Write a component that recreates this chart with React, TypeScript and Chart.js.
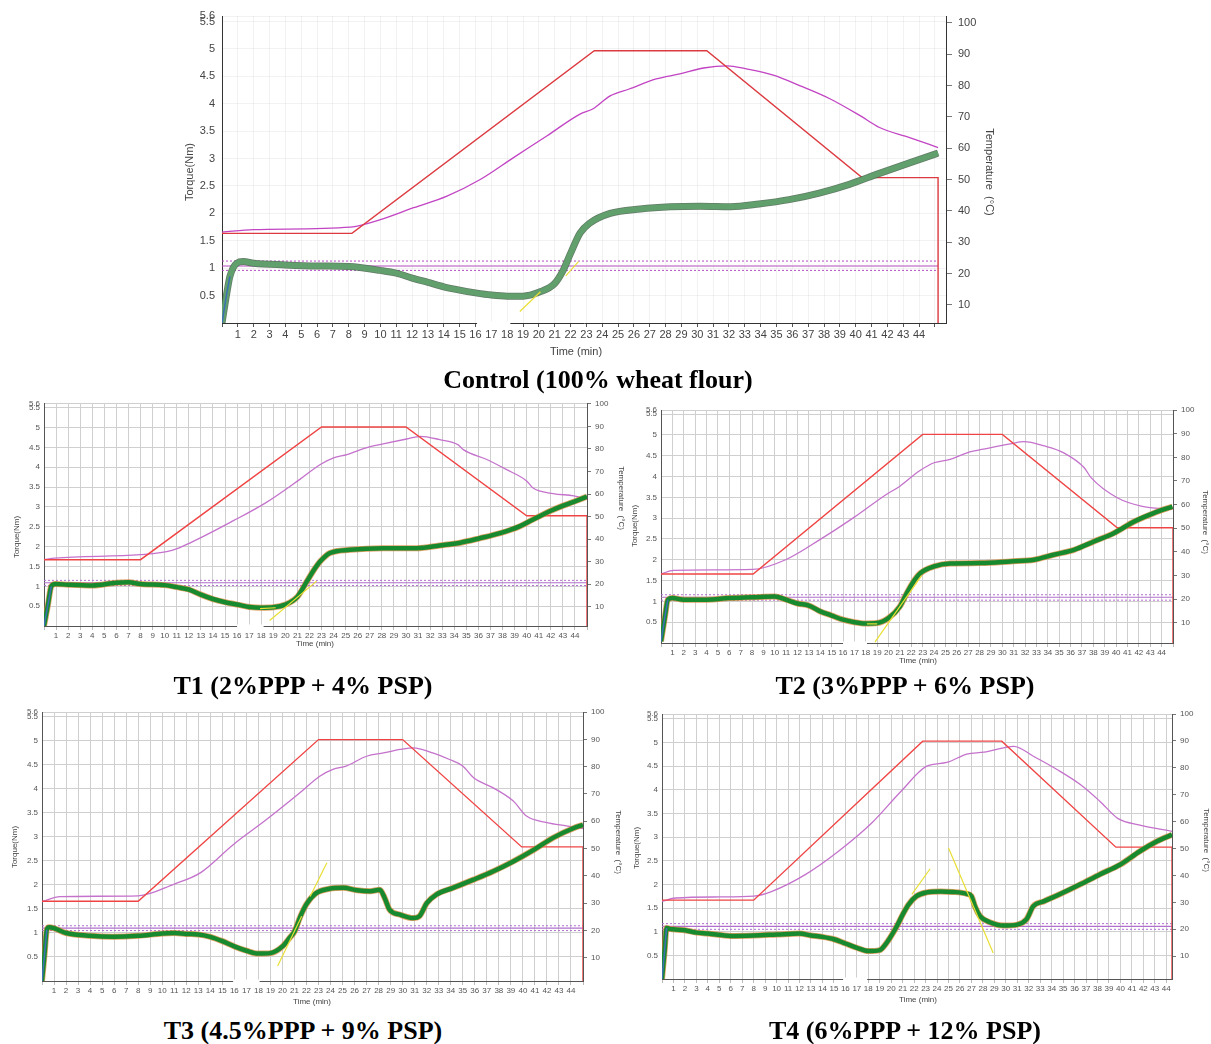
import React, { useEffect, useRef } from 'react';
import { Chart, registerables } from 'chart.js';
Chart.register(...registerables);

// ---------- axis ticks ----------
const torqueTicks = [0.5, 1, 1.5, 2, 2.5, 3, 3.5, 4, 4.5, 5, 5.5, 5.6];
const tempTicks = [10, 20, 30, 40, 50, 60, 70, 80, 90, 100];
const timeTicks = Array.from({ length: 46 }, (_, i) => i);
const timeLabelFirst = 1;
const timeLabelLast = 44;

// ---------- Control (100% wheat flour) ----------
const ctrlTorqueTime = [0, 0.3, 0.5, 0.93, 1.35, 2, 4, 6, 8, 10, 11, 12, 13, 14, 15, 16, 17, 18, 19, 20, 21, 21.5, 22, 22.6, 23.2, 24.5, 26.4, 28.3, 30.2, 32.1, 33.9, 35.8, 37.7, 39.6, 41.5, 43.4, 45.2];
const ctrlTorque = [0, 0.54, 0.85, 1.09, 1.12, 1.09, 1.06, 1.04, 1.03, 0.96, 0.91, 0.82, 0.74, 0.66, 0.6, 0.55, 0.51, 0.49, 0.49, 0.56, 0.72, 0.94, 1.27, 1.64, 1.82, 2.0, 2.08, 2.12, 2.13, 2.12, 2.17, 2.25, 2.37, 2.53, 2.73, 2.92, 3.1];
const ctrlDoughTime = [0, 2, 8.1, 10, 12.1, 14.2, 16.3, 18.4, 20.5, 22.6, 23.4, 24.5, 25.7, 27.4, 28.9, 30.4, 31.9, 33.1, 34.8, 36.5, 38.4, 40.3, 41.5, 43.4, 45.2];
const ctrlDough = [33.2, 34.0, 34.8, 37.2, 41, 44.7, 50, 57, 63.9, 70.9, 72.5, 76.7, 78.9, 82.1, 83.7, 85.6, 86.3, 85.3, 83.3, 79.9, 75.7, 70.3, 66.6, 63.4, 60.2];
const ctrlTargetTime = [0, 8.2, 23.5, 30.6, 40.4, 45.2, 45.2];
const ctrlTarget = [32.8, 32.8, 91.1, 91.1, 50.6, 50.6, 4.2];
const ctrlBand = [1.04, 1.13, 0.96];
const ctrlTangents = [[[18.8, 0.21], [20.1, 0.57]], [[21.7, 0.86], [22.5, 1.12]]];

// ---------- T1 (2%PPP + 4% PSP) ----------
const t1TorqueTime = [0, 0.33, 0.6, 0.93, 2, 4, 6, 7, 8, 10, 11, 12, 13, 14, 15, 16, 17, 18, 19, 20, 21, 21.8, 22.3, 22.9, 23.7, 25.35, 28.1, 30.9, 32.8, 34.5, 36.1, 37.8, 39.4, 40.5, 42.2, 43.9, 45];
const t1Torque = [0, 0.54, 1.0, 1.06, 1.04, 1.02, 1.09, 1.1, 1.06, 1.03, 0.98, 0.92, 0.79, 0.68, 0.6, 0.54, 0.48, 0.46, 0.47, 0.54, 0.74, 1.13, 1.38, 1.63, 1.84, 1.92, 1.96, 1.96, 2.03, 2.1, 2.21, 2.34, 2.51, 2.68, 2.93, 3.13, 3.26];
const t1DoughTime = [0, 0.9, 8, 10.6, 12.2, 15.7, 18.4, 21.2, 22.9, 24, 25.1, 26.7, 28.1, 30.05, 31.2, 32.8, 34.3, 34.75, 36.7, 38.3, 40, 40.5, 42.2, 43.9, 45];
const t1Dough = [30.9, 31.6, 33.1, 35.0, 38.6, 48.2, 56.2, 66.5, 73.1, 76, 77.5, 80.5, 82.2, 84.4, 85.6, 84.1, 81.9, 79.7, 75.3, 70.9, 65.8, 62.8, 60.2, 59.2, 57.7];
const t1TargetTime = [0, 8, 23, 30, 40, 45, 45];
const t1Target = [30.9, 30.9, 89.7, 89.7, 50.4, 50.4, 1.5];
const t1Band = [1.09, 1.15, 1.02];
const t1Tangents = [[[18.7, 0.14], [22.6, 1.13]], [[17.9, 0.44], [19.2, 0.46]]];

// ---------- T2 (3%PPP + 6% PSP) ----------
const t2TorqueTime = [0, 0.35, 0.6, 1, 2, 4, 6, 8, 10, 11, 12, 13, 14, 15, 16, 17, 18, 19, 20, 21, 21.6, 22.2, 22.8, 24, 25.4, 28.1, 30.7, 32.8, 34.5, 36.3, 38.05, 39.8, 41.6, 43.3, 44.95];
const t2Torque = [0.04, 0.64, 1.04, 1.08, 1.04, 1.04, 1.08, 1.1, 1.12, 1.04, 0.95, 0.9, 0.76, 0.66, 0.56, 0.5, 0.47, 0.48, 0.6, 0.88, 1.2, 1.48, 1.68, 1.84, 1.91, 1.92, 1.96, 2.0, 2.12, 2.24, 2.44, 2.64, 2.92, 3.12, 3.28];
const t2DoughTime = [0, 1.1, 8.1, 11, 14, 16.9, 19.8, 21, 22.7, 24, 25.4, 26.9, 28.7, 30.7, 31.9, 33.7, 35.4, 37.2, 37.8, 40.1, 42.2, 44.95];
const t2Dough = [30.7, 32.2, 32.6, 36.8, 45.3, 54.4, 64.3, 67.8, 74.2, 77.7, 79.1, 81.9, 83.8, 85.7, 86.6, 84.8, 81.9, 75.6, 71.4, 62.9, 59.4, 58];
const t2TargetTime = [0, 8.1, 23, 30, 40.1, 45, 45];
const t2Target = [30.7, 30.7, 89.7, 89.7, 50.2, 50.2, 1.5];
const t2Band = [1.1, 1.16, 1.03];
const t2Tangents = [[[18.8, 0.02], [22.9, 1.62]], [[18.1, 0.46], [19.0, 0.46]]];

// ---------- T3 (4.5%PPP + 9% PSP) ----------
const t3TorqueTime = [0, 0.22, 0.4, 0.6, 2, 4, 5.9, 8, 10, 11, 12, 13, 14, 15, 16, 17, 18, 19, 20, 20.6, 21, 21.5, 22, 22.8, 23.9, 25.05, 26.2, 27.3, 28.1, 28.5, 28.9, 29.8, 30.9, 31.4, 32, 32.8, 34.2, 35.9, 37.5, 39.2, 40.9, 42.5, 44.2, 45];
const t3Torque = [0, 0.58, 1.07, 1.12, 1.0, 0.94, 0.92, 0.94, 0.99, 1.0, 0.98, 0.97, 0.92, 0.83, 0.72, 0.63, 0.57, 0.58, 0.72, 0.9, 1.03, 1.35, 1.6, 1.83, 1.92, 1.94, 1.89, 1.87, 1.9, 1.73, 1.49, 1.38, 1.31, 1.35, 1.62, 1.8, 1.94, 2.11, 2.28, 2.49, 2.73, 2.98, 3.18, 3.25];
const t3DoughTime = [0, 1.5, 8, 11, 13.2, 15.9, 18.7, 21.45, 23.1, 24.2, 25.3, 27, 28.4, 29.8, 30.9, 32.5, 33.9, 35, 35.9, 37.5, 39.2, 40.3, 42, 43.6, 45];
const t3Dough = [30.5, 32.4, 32.7, 37, 41.2, 51.4, 60.7, 70.4, 76.5, 79, 80.2, 83.8, 85, 86.3, 86.9, 85, 82.6, 80.2, 75.9, 72.3, 67.4, 61.9, 59.5, 58.3, 57.3];
const t3TargetTime = [0, 8, 23, 30, 39.9, 45, 45];
const t3Target = [30.7, 30.7, 89.9, 89.9, 50.6, 50.6, 1.5];
const t3Band = [1.1, 1.15, 1.05];
const t3Tangents = [[[19.6, 0.31], [21.6, 1.35]], [[22.3, 1.76], [23.7, 2.46]]];

// ---------- T4 (6%PPP + 12% PSP) ----------
const t4TorqueTime = [0, 0.24, 0.4, 0.65, 1, 2, 3, 4, 6, 8, 10, 12, 13, 14, 15, 16, 17, 18, 19, 19.5, 20, 20.5, 21, 21.5, 22.2, 23.1, 24.3, 25.4, 26.6, 27, 27.3, 27.75, 28.6, 29.8, 31, 31.8, 32.4, 33.3, 34.7, 36.5, 38.2, 40, 41.7, 43.2, 44.5];
const t4Torque = [0, 0.63, 1.08, 1.06, 1.05, 1.03, 0.98, 0.96, 0.91, 0.92, 0.94, 0.96, 0.92, 0.89, 0.84, 0.75, 0.66, 0.59, 0.61, 0.73, 0.91, 1.12, 1.36, 1.57, 1.75, 1.83, 1.85, 1.84, 1.8, 1.75, 1.54, 1.33, 1.2, 1.13, 1.15, 1.26, 1.54, 1.64, 1.79, 2.0, 2.21, 2.42, 2.7, 2.91, 3.05];
const t4DoughTime = [0, 1.2, 5, 8, 9.6, 12.5, 15.4, 18.3, 20.8, 23.1, 24.85, 26.6, 28.1, 29.8, 30.7, 32.4, 34.5, 36.5, 38.2, 39.8, 41.7, 44.5];
const t4Dough = [30.4, 31.6, 32, 32.3, 34.1, 40.3, 49, 59.5, 71, 80.6, 82, 85.1, 85.8, 87.4, 88, 84.3, 79.3, 73.8, 67.6, 61.1, 58.7, 56.4];
const t4TargetTime = [0, 8, 22.75, 29.65, 39.6, 44.5, 44.5];
const t4Target = [30.8, 30.8, 89.9, 89.9, 50.5, 50.5, 1.5];
const t4Band = [1.11, 1.17, 1.05];
const t4Tangents = [[[21.8, 1.79], [23.4, 2.33]], [[25.0, 2.77], [28.9, 0.55]]];

// ---------- captions ----------
const captions = [
  'Control (100% wheat flour)',
  'T1 (2%PPP + 4% PSP)',
  'T2 (3%PPP + 6% PSP)',
  'T3 (4.5%PPP + 9% PSP)',
  'T4 (6%PPP + 12% PSP)',
];
const torqueTitle = 'Torque(Nm)';
const tempTitle = 'Temperature  (°C)';
const timeTitle = 'Time (min)';

const FONT = '"Liberation Sans", Arial, sans-serif';

const xy = (t: number[], v: number[]) => t.map((x, i) => ({ x, y: v[i] }));
const seg = (s: number[][]) => s.map(([x, y]) => ({ x, y }));

const overlayPlugin = {
  id: 'overlay',
  afterDraw(chart: any, _args: any, opts: any) {
    const { ctx, chartArea: a, scales } = chart;
    ctx.save();
    if (opts.gap) {
      const x0 = scales.x.getPixelForValue(opts.gap[0]);
      const x1 = scales.x.getPixelForValue(opts.gap[1]);
      ctx.fillStyle = '#ffffff';
      ctx.fillRect(x0, a.bottom - 1.5, x1 - x0, 5.5);
    }
    for (const t of opts.titles || []) {
      ctx.save();
      ctx.translate(t.x, t.y);
      ctx.rotate(t.rot);
      ctx.font = t.font;
      ctx.fillStyle = t.color;
      ctx.textAlign = 'center';
      ctx.textBaseline = 'middle';
      ctx.fillText(t.text, 0, 0);
      ctx.restore();
    }
    ctx.restore();
  },
};

type PanelSpec = {
  box: { x: number; y: number; w: number; h: number };
  padTop: number; leftW: number; rightW: number; xH: number;
  xMax: number; tMin: number; tMax: number; fs: number; ctrl: boolean;
  gap: number[];
  titles: { text: string; x: number; y: number; rot: number }[];
  torqueT: number[]; torque: number[]; doughT: number[]; dough: number[];
  targetT: number[]; target: number[]; band: number[]; tangents: number[][][];
};

const R = Math.PI / 2;

const panels: PanelSpec[] = [
  {
    box: { x: 170, y: 0, w: 870, h: 370 }, padTop: 16, leftW: 52, rightW: 94, xH: 47,
    xMax: 45.7, tMin: 4.2, tMax: 102.2, fs: 11, ctrl: true, gap: [16.1, 18.2],
    titles: [
      { text: torqueTitle, x: 20, y: 172, rot: -R },
      { text: tempTitle, x: 819, y: 172, rot: R },
      { text: timeTitle, x: 406, y: 352, rot: 0 },
    ],
    torqueT: ctrlTorqueTime, torque: ctrlTorque, doughT: ctrlDoughTime, dough: ctrlDough,
    targetT: ctrlTargetTime, target: ctrlTarget, band: ctrlBand, tangents: ctrlTangents,
  },
  {
    box: { x: 0, y: 395, w: 650, h: 270 }, padTop: 8, leftW: 44, rightW: 63, xH: 39,
    xMax: 45, tMin: 1.5, tMax: 100, fs: 8, ctrl: false, gap: [16, 18.2],
    titles: [
      { text: torqueTitle, x: 17, y: 142, rot: -R },
      { text: tempTitle, x: 621, y: 103, rot: R },
      { text: timeTitle, x: 315, y: 249, rot: 0 },
    ],
    torqueT: t1TorqueTime, torque: t1Torque, doughT: t1DoughTime, dough: t1Dough,
    targetT: t1TargetTime, target: t1Target, band: t1Band, tangents: t1Tangents,
  },
  {
    box: { x: 620, y: 400, w: 591, h: 270 }, padTop: 10, leftW: 41, rightW: 38, xH: 27,
    xMax: 45, tMin: 1.5, tMax: 100, fs: 8, ctrl: false, gap: [16, 18.1],
    titles: [
      { text: torqueTitle, x: 15, y: 126, rot: -R },
      { text: tempTitle, x: 585, y: 122, rot: R },
      { text: timeTitle, x: 298, y: 261, rot: 0 },
    ],
    torqueT: t2TorqueTime, torque: t2Torque, doughT: t2DoughTime, dough: t2Dough,
    targetT: t2TargetTime, target: t2Target, band: t2Band, tangents: t2Tangents,
  },
  {
    box: { x: 0, y: 700, w: 650, h: 310 }, padTop: 12, leftW: 42, rightW: 67, xH: 29,
    xMax: 45, tMin: 1.5, tMax: 100, fs: 8, ctrl: false, gap: [15.9, 18.1],
    titles: [
      { text: torqueTitle, x: 15, y: 147, rot: -R },
      { text: tempTitle, x: 618, y: 142, rot: R },
      { text: timeTitle, x: 312, y: 302, rot: 0 },
    ],
    torqueT: t3TorqueTime, torque: t3Torque, doughT: t3DoughTime, dough: t3Dough,
    targetT: t3TargetTime, target: t3Target, band: t3Band, tangents: t3Tangents,
  },
  {
    box: { x: 620, y: 700, w: 591, h: 310 }, padTop: 14, leftW: 42, rightW: 39, xH: 31,
    xMax: 44.5, tMin: 1.5, tMax: 100, fs: 8, ctrl: false, gap: [15.8, 17.9],
    titles: [
      { text: torqueTitle, x: 17, y: 148, rot: -R },
      { text: tempTitle, x: 586, y: 140, rot: R },
      { text: timeTitle, x: 298, y: 300, rot: 0 },
    ],
    torqueT: t4TorqueTime, torque: t4Torque, doughT: t4DoughTime, dough: t4Dough,
    targetT: t4TargetTime, target: t4Target, band: t4Band, tangents: t4Tangents,
  },
];

const captionPos = [
  { cx: 598, cy: 380 },
  { cx: 303, cy: 686 },
  { cx: 905, cy: 686 },
  { cx: 303, cy: 1031 },
  { cx: 905, cy: 1031 },
];

function makeConfig(p: PanelSpec): any {
  const c = p.ctrl;
  const green = c ? '#61a06c' : '#178a30';
  const greenEdge = c ? 'rgba(70,100,75,0.85)' : 'rgba(214,130,50,0.75)';
  const greenW = c ? 5.5 : 4.5;
  const edgeW = c ? 7 : 6;
  const purple = c ? '#c244c4' : '#c472cc';
  const red = c ? '#dc3a40' : '#f04444';
  const bandColor = c ? '#b24cc0' : '#b070cc';
  const grid = c ? 'rgba(0,0,0,0.05)' : '#cfcfcf';
  const axis = c ? '#333333' : '#555555';
  const tickColor = c ? '#444444' : '#555555';
  const end = p.targetT[p.targetT.length - 1];
  const font = { family: FONT, size: p.fs };

  const datasets: any[] = [
    { data: xy(p.torqueT.slice(0, 3), p.torque.slice(0, 3)), borderColor: '#3d6fb5', borderWidth: 1.5, order: 0, yAxisID: 'y' },
    ...p.tangents.map((tg) => ({ data: seg(tg), borderColor: '#e9df35', borderWidth: 1.2, order: 0, yAxisID: 'y' })),
    { data: xy(p.torqueT, p.torque), borderColor: green, borderWidth: greenW, cubicInterpolationMode: 'monotone', order: 1, yAxisID: 'y' },
    { data: xy(p.torqueT, p.torque), borderColor: greenEdge, borderWidth: edgeW, cubicInterpolationMode: 'monotone', order: 2, yAxisID: 'y' },
    { data: xy(p.targetT, p.target), borderColor: red, borderWidth: 1.4, tension: 0, order: 3, yAxisID: 'y1' },
    { data: xy(p.doughT, p.dough), borderColor: purple, borderWidth: 1.3, cubicInterpolationMode: 'monotone', order: 4, yAxisID: 'y1' },
    { data: [{ x: 0, y: p.band[0] }, { x: end, y: p.band[0] }], borderColor: bandColor, borderWidth: 1.2, order: 5, yAxisID: 'y' },
    { data: [{ x: 0, y: p.band[1] }, { x: end, y: p.band[1] }], borderColor: bandColor, borderWidth: 1, borderDash: [2, 2], order: 5, yAxisID: 'y' },
    { data: [{ x: 0, y: p.band[2] }, { x: end, y: p.band[2] }], borderColor: bandColor, borderWidth: 1, borderDash: [2, 2], order: 5, yAxisID: 'y' },
  ];

  const titleFont = `${p.fs}px ${FONT}`;

  return {
    type: 'line',
    data: { datasets },
    plugins: [overlayPlugin],
    options: {
      responsive: false,
      animation: false,
      events: [],
      layout: { padding: { top: p.padTop, left: 0, right: 0, bottom: 0 } },
      elements: { point: { radius: 0 }, line: { fill: false } },
      plugins: {
        legend: { display: false },
        tooltip: { enabled: false },
        overlay: {
          gap: p.gap,
          titles: p.titles.map((t) => ({ ...t, font: titleFont, color: '#444444' })),
        },
      },
      scales: {
        x: {
          type: 'linear', min: 0, max: p.xMax,
          afterBuildTicks: (s: any) => { s.ticks = timeTicks.filter((v) => v <= p.xMax).map((v) => ({ value: v })); },
          afterFit: (s: any) => { s.height = p.xH; },
          ticks: {
            autoSkip: false, maxRotation: 0, minRotation: 0, font, color: tickColor, padding: 1,
            callback: (v: number) => (v >= timeLabelFirst && v <= timeLabelLast ? String(v) : ''),
          },
          grid: { color: grid, tickLength: 4, tickColor: c ? '#555555' : '#bbbbbb' },
          border: { color: axis, width: 1 },
        },
        y: {
          position: 'left', min: 0, max: 5.6,
          afterBuildTicks: (s: any) => { s.ticks = torqueTicks.map((v) => ({ value: v })); },
          afterFit: (s: any) => { s.width = p.leftW; },
          ticks: { autoSkip: false, font, color: tickColor, padding: c ? 7 : 4, callback: (v: number) => String(v) },
          grid: { color: grid, drawTicks: false },
          border: { color: axis, width: 1 },
        },
        y1: {
          position: 'right', min: p.tMin, max: p.tMax,
          afterBuildTicks: (s: any) => { s.ticks = tempTicks.map((v) => ({ value: v })); },
          afterFit: (s: any) => { s.width = p.rightW; },
          ticks: { autoSkip: false, font, color: tickColor, padding: c ? 6 : 4 },
          grid: { drawOnChartArea: false, tickLength: c ? 6 : 4, tickColor: '#777777' },
          border: { color: axis, width: 1 },
        },
      },
    },
  };
}

function MixoChart({ p }: { p: PanelSpec }) {
  const ref = useRef<HTMLCanvasElement | null>(null);
  useEffect(() => {
    if (!ref.current) return;
    const chart = new Chart(ref.current, makeConfig(p));
    return () => chart.destroy();
  }, [p]);
  return (
    <canvas
      ref={ref}
      width={p.box.w}
      height={p.box.h}
      style={{ position: 'absolute', left: p.box.x, top: p.box.y, width: p.box.w, height: p.box.h }}
    />
  );
}

export default function App() {
  return (
    <div style={{ position: 'absolute', left: 0, top: 0, width: 1211, height: 1044, overflow: 'hidden', background: '#ffffff' }}>
      {panels.map((p, i) => (
        <MixoChart key={i} p={p} />
      ))}
      {captions.map((c, i) => (
        <div
          key={c}
          style={{
            position: 'absolute',
            left: captionPos[i].cx - 300,
            top: captionPos[i].cy - 15,
            width: 600,
            height: 30,
            lineHeight: '30px',
            textAlign: 'center',
            fontFamily: '"Liberation Serif", "Times New Roman", serif',
            fontWeight: 'bold',
            fontSize: 26,
            color: '#000',
          }}
        >
          {c}
        </div>
      ))}
    </div>
  );
}
